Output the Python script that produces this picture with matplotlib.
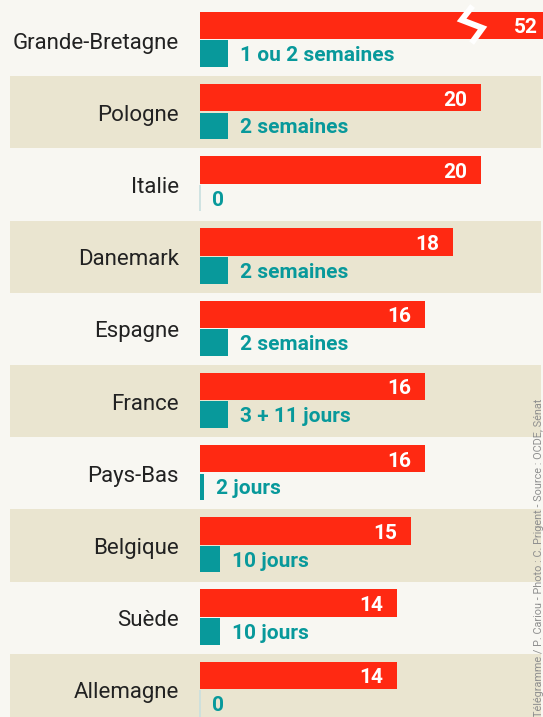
import numpy as np
import matplotlib.pyplot as plt

# données : congé maternité (semaines) et congé paternité (jours)
pays = ['Grande-Bretagne', 'Pologne', 'Italie', 'Danemark', 'Espagne',
        'France', 'Pays-Bas', 'Belgique', 'Suède', 'Allemagne']
maternite = [52, 20, 20, 18, 16, 16, 16, 15, 14, 14]
paternite_jours = [14, 14, 0, 14, 14, 14, 2, 10, 10, 0]
paternite_txt = ['1 ou 2 semaines', '2 semaines', '0', '2 semaines', '2 semaines',
                 '3 + 11 jours', '2 jours', '10 jours', '10 jours', '0']
credit = 'Télégramme / P. Cariou - Photo : C. Prigent - Source : OCDE, Sénat'

ROUGE = '#FF2912'
BLEU = '#08999B'
BEIGE = '#EAE5D0'
FOND = '#F8F7F2'

W, H = 543, 717
px_sem = 14.05     # pixels par semaine
x0 = 200           # début des barres (px)
row_h = 72.2       # hauteur d'une ligne (px)
y0 = 40            # centre de la première ligne (px)

fig = plt.figure(figsize=(W / 100, H / 100), dpi=100)
fig.patch.set_facecolor(FOND)
ax = fig.add_axes([0, 0, 1, 1])
ax.set_facecolor(FOND)
xmax = (W - x0) / px_sem
ax.set_xlim(-x0 / px_sem, xmax)
ax.set_ylim((H - y0) / row_h, -y0 / row_h)
ax.axis('off')

n = len(pays)
y = np.arange(n)
paternite = np.array(paternite_jours) / 7

# bandes beiges une ligne sur deux
for i in range(1, n, 2):
    ax.axhspan(i - 0.5, i + 0.5, xmin=10 / W, xmax=541 / W, color=BEIGE, lw=0, zorder=0)

# barres
ax.barh(y - 0.2, maternite, height=0.38, left=0, color=ROUGE, zorder=2)
ax.barh(y + 0.19, paternite, height=0.37, left=0, color=BLEU, zorder=2)

for i in range(n):
    ax.text(-21 / px_sem, i + 0.118, pays[i], ha='right', va='baseline',
            fontsize=16, color='#222222', family='Roboto')

    v = maternite[i]
    if v > xmax:
        xt = xmax - 5 / px_sem
    else:
        xt = v - 14 / px_sem
    ax.text(xt, i - 0.2 + 0.108, str(v), ha='right', va='baseline', fontsize=15,
            fontweight='bold', color='white', family='Roboto', zorder=4)

    if paternite[i] == 0:
        ax.vlines(0, i + 0.005, i + 0.375, color='#C9DFDF', lw=1.2, zorder=2)
    ax.text(paternite[i] + 12.4 / px_sem, i + 0.19 + 0.103, paternite_txt[i], ha='left',
            va='baseline', fontsize=15, fontweight='bold', color=BLEU,
            family='Roboto', zorder=4)

# cassure sur la barre tronquée
cut = 19.4
dx = np.array([0, -0.78, 0.71, -0.07])
dy = np.array([-0.271, -0.077, 0.034, 0.242])
ax.plot(cut + dx, -0.2 + dy, color='white', lw=4.3, solid_joinstyle='miter',
        solid_capstyle='butt', zorder=3)

fig.text(539 / W, 0, credit, rotation=90, ha='center', va='bottom',
         fontsize=7.8, color='#8F8F8F', family='Roboto')

fig.savefig('out.png', dpi=100, facecolor=FOND)
